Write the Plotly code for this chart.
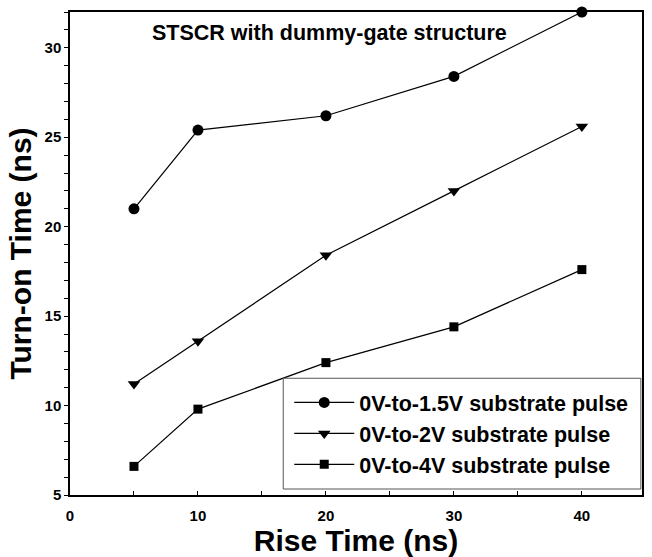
import plotly.graph_objects as go

rise_time = [5, 10, 20, 30, 40]
turn_on_1p5v = [21.0, 25.4, 26.2, 28.4, 32.0]
turn_on_2v = [11.2, 13.6, 18.4, 22.0, 25.6]
turn_on_4v = [6.6, 9.8, 12.4, 14.4, 17.6]
series_names = ["0V-to-1.5V substrate pulse", "0V-to-2V substrate pulse", "0V-to-4V substrate pulse"]
x_ticks = [0, 10, 20, 30, 40]
y_ticks = [5, 10, 15, 20, 25, 30]

FONT = "Liberation Sans, Arial, sans-serif"

fig = go.Figure()
for vals, name, sym, size in [
    (turn_on_1p5v, series_names[0], "circle", 11),
    (turn_on_2v, series_names[1], "triangle-down", 11),
    (turn_on_4v, series_names[2], "square", 9),
]:
    fig.add_trace(go.Scatter(
        x=rise_time, y=vals, name=name, mode="lines+markers",
        line=dict(color="black", width=1.2),
        marker=dict(symbol=sym, size=size, color="black"),
        cliponaxis=False,
    ))

fig.update_layout(
    width=652, height=557,
    margin=dict(l=70, r=8, t=12, b=61),
    paper_bgcolor="white", plot_bgcolor="white",
    font=dict(family=FONT, color="black"),
    showlegend=True,
    legend=dict(
        x=0.3728, y=0.234, xanchor="left", yanchor="top",
        bgcolor="rgba(0,0,0,0)", borderwidth=0,
        font=dict(size=21.5, family=FONT, weight="bold"),
        tracegroupgap=0, itemwidth=60, indentation=6,
    ),
    shapes=[dict(
        type="rect", xref="paper", yref="paper",
        x0=0.3728, x1=0.998, y0=0.0124, y1=0.2417,
        line=dict(color="#555555", width=1), fillcolor="white", layer="above",
    )],
    annotations=[dict(
        text="<b>STSCR with dummy-gate structure</b>", x=0.139, y=0.985,
        xref="paper", yref="paper", xanchor="left", yanchor="top",
        showarrow=False, font=dict(size=21.5, family=FONT),
    )],
)
fig.update_xaxes(
    range=[0, 44.7], tickvals=x_ticks, ticks="inside", ticklen=4,
    tickwidth=1.2, tickcolor="black", ticklabelstandoff=6,
    minor=dict(dtick=5, tick0=0, ticks="inside", ticklen=4, tickcolor="black", tickwidth=1.2),
    showline=True, linecolor="black", linewidth=1.5, mirror=True,
    showgrid=False, zeroline=False,
    tickfont=dict(size=15, family=FONT, weight="bold"),
    title=dict(text="Rise Time (ns)", font=dict(size=30, family=FONT, weight="bold"), standoff=4),
)
fig.update_yaxes(
    range=[5, 32], tickvals=y_ticks, ticks="outside", ticklen=4,
    tickwidth=1.2, tickcolor="black",
    minor=dict(dtick=1, tick0=5, ticks="outside", ticklen=4, tickcolor="black", tickwidth=1.2),
    showline=True, linecolor="black", linewidth=1.5, mirror=True,
    showgrid=False, zeroline=False,
    tickfont=dict(size=15, family=FONT, weight="bold"),
    title=dict(text="Turn-on Time (ns)", font=dict(size=30, family=FONT, weight="bold"), standoff=4),
)

fig.write_html("out.html")
